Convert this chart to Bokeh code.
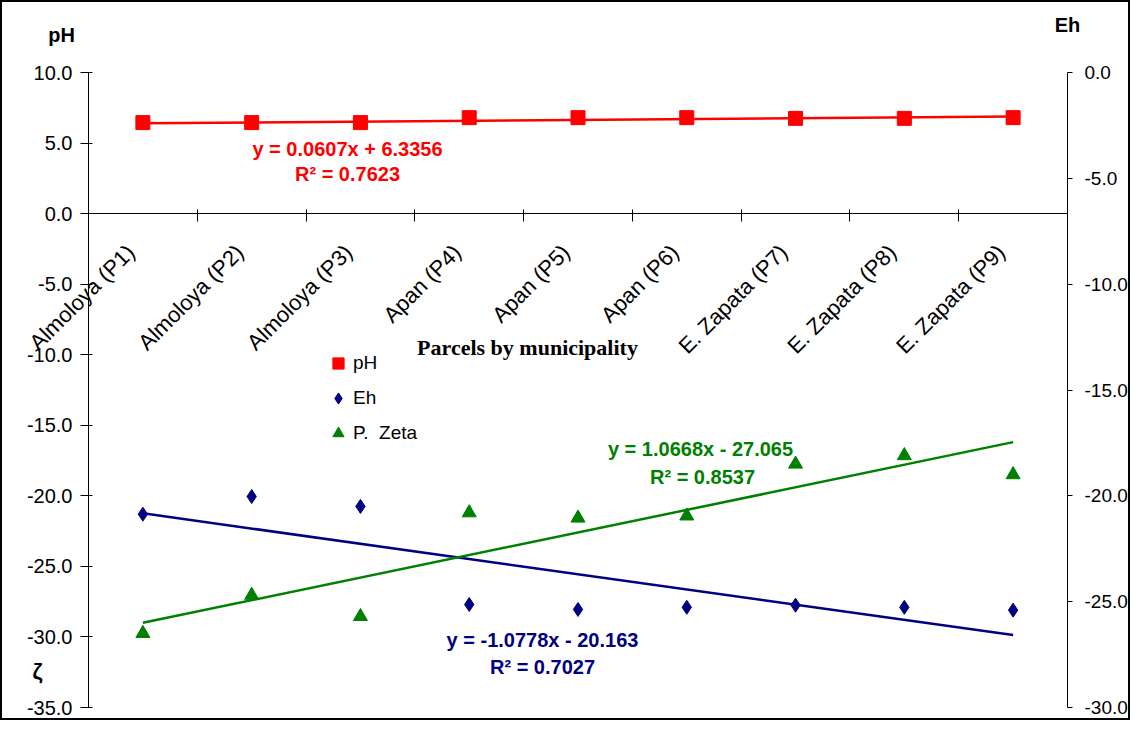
import math
from bokeh.plotting import figure
from bokeh.models import (Range1d, LinearAxis, FixedTicker, NumeralTickFormatter,
                          LabelSet, Legend, LegendItem, ColumnDataSource)
from bokeh.core.properties import value
from bokeh.embed import file_html
from bokeh.resources import INLINE

# ---------------- data ----------------
categories = ["Almoloya (P1)", "Almoloya (P2)", "Almoloya (P3)",
              "Apan (P4)", "Apan (P5)", "Apan (P6)",
              "E. Zapata (P7)", "E. Zapata (P8)", "E. Zapata (P9)"]
x_pos = [1, 2, 3, 4, 5, 6, 7, 8, 9]
ph = [6.45, 6.45, 6.45, 6.8, 6.8, 6.8, 6.75, 6.75, 6.8]
eh = [-21.3, -20.05, -20.75, -27.7, -28.05, -27.9, -27.75, -27.9, -28.1]
zeta = [-26.5, -24.7, -25.7, -20.8, -21.05, -20.95, -18.5, -18.1, -19.0]

ph_fit = {"slope": 0.0607, "intercept": 6.3356, "r2": 0.7623}
eh_fit = {"slope": -1.0778, "intercept": -20.163, "r2": 0.7027}
zeta_fit = {"slope": 1.0668, "intercept": -27.065, "r2": 0.8537}

left_ticks = [-35, -30, -25, -20, -15, -10, -5, 0, 5, 10]
right_ticks = [-30, -25, -20, -15, -10, -5, 0]
left_bounds = (-35, 10)
right_bounds = (-30, 0)

RED = "#ff0000"
NAVY = "#000080"
GREEN = "#008000"
FONT = "Liberation Sans"

# ---------------- geometry (canvas pixels) ----------------
W, H = 1130, 720
AX_L, AX_R = 88, 1067      # where x = 0.5 and x = 9.5 fall
AX_T, AX_B = 72, 707       # where the axes' top and bottom fall
ux = (AX_R - AX_L) / 9.0
uy = (AX_B - AX_T) / float(left_bounds[1] - left_bounds[0])
uyr = (AX_B - AX_T) / float(right_bounds[1] - right_bounds[0])
x0 = 0.5 - AX_L / ux
x1 = 9.5 + (W - AX_R) / ux
y1 = left_bounds[1] + AX_T / uy
y0 = left_bounds[0] - (H - AX_B) / uy
r1 = right_bounds[1] + AX_T / uyr
r0 = right_bounds[0] - (H - AX_B) / uyr


def px2x(cx):
    return x0 + cx / ux


def px2y(cy):
    return y1 - cy / uy


p = figure(width=W, height=H, x_range=Range1d(x0, x1), y_range=Range1d(y0, y1),
           output_backend="svg", toolbar_location=None, x_axis_location=None,
           y_axis_location=None, min_border=0, min_border_left=0, min_border_right=0,
           min_border_top=0, min_border_bottom=0)
p.outline_line_color = "black"
p.outline_line_width = 3
p.xgrid.visible = False
p.ygrid.visible = False
p.background_fill_color = "white"
p.border_fill_color = "white"
p.extra_y_ranges = {"right": Range1d(r0, r1)}


def style_axis(ax, size="20px"):
    ax.major_label_text_font = FONT
    ax.major_label_text_font_size = size
    ax.major_label_text_color = "black"
    ax.minor_tick_line_color = None
    ax.axis_line_color = "black"
    ax.major_tick_line_color = "black"


la = LinearAxis(fixed_location=0.5, bounds=left_bounds, ticker=FixedTicker(ticks=left_ticks),
                formatter=NumeralTickFormatter(format="0.0"))
style_axis(la)
la.major_tick_in = 4
la.major_tick_out = 8
la.major_label_standoff = 8
p.add_layout(la, "left")

ra = LinearAxis(y_range_name="right", fixed_location=9.5, bounds=right_bounds,
                ticker=FixedTicker(ticks=right_ticks),
                formatter=NumeralTickFormatter(format="0.0"))
style_axis(ra, "19px")
ra.major_tick_in = 0
ra.major_tick_out = 5
ra.major_label_standoff = 12
p.add_layout(ra, "right")

# category axis crossing at y = 0: only boundary ticks (as minor ticks), no labels
xa = LinearAxis(fixed_location=0, bounds=(0.5, 9.5),
                ticker=FixedTicker(ticks=[], minor_ticks=[0.5 + i for i in range(10)]))
xa.axis_line_color = "black"
xa.major_tick_line_color = None
xa.minor_tick_line_color = "black"
xa.minor_tick_in = 4
xa.minor_tick_out = 8
p.add_layout(xa, "below")

cat_src = ColumnDataSource(dict(x=x_pos, y=[0] * len(x_pos), text=categories))
cats = LabelSet(x="x", y="y", text="text", source=cat_src, angle=math.pi / 4,
                text_align="right", text_baseline="middle", x_offset=-12, y_offset=-35,
                text_font=value(FONT), text_font_size="22px", text_color="black")
p.add_layout(cats)

# trend lines
xs_fit = [x_pos[0], x_pos[-1]]
p.line(xs_fit, [ph_fit["slope"] * x + ph_fit["intercept"] for x in xs_fit],
       line_color=RED, line_width=2.5)
p.line(xs_fit, [eh_fit["slope"] * x + eh_fit["intercept"] for x in xs_fit],
       line_color=NAVY, line_width=2.5)
p.line(xs_fit, [zeta_fit["slope"] * x + zeta_fit["intercept"] for x in xs_fit],
       line_color=GREEN, line_width=2.5, y_range_name="right")

# points
r_ph = p.scatter(x_pos, ph, marker="square", size=14, fill_color=RED, line_color=RED)
r_eh = p.scatter(x_pos, eh, marker="diamond", size=14, fill_color=NAVY, line_color=NAVY)
r_ze = p.scatter(x_pos, zeta, marker="triangle", size=14, fill_color=GREEN,
                 line_color=GREEN, y_range_name="right")

legend = Legend(items=[LegendItem(label="pH", renderers=[r_ph]),
                       LegendItem(label="Eh", renderers=[r_eh]),
                       LegendItem(label="P.  Zeta", renderers=[r_ze])],
                location=(324, 273))
legend.border_line_color = None
legend.background_fill_alpha = 0
legend.label_text_font = FONT
legend.label_text_font_size = "19px"
legend.label_text_color = "black"
legend.glyph_width = 28
legend.glyph_height = 28
legend.label_height = 28
legend.spacing = 7
legend.padding = 0
legend.margin = 0
legend.label_standoff = 1
p.add_layout(legend)


def eq_text(fit):
    sign = "+" if fit["intercept"] >= 0 else "-"
    return "y = %sx %s %s" % (f"{fit['slope']:.4f}", sign, f"{abs(fit['intercept']):g}")


lab_x, lab_y, lab_t, lab_c, lab_s, lab_f, lab_st = [], [], [], [], [], [], []


def add_label(cx, cy, text, color, size="20px", bold=True, font=FONT):
    lab_x.append(px2x(cx))
    lab_y.append(px2y(cy))
    lab_t.append(text)
    lab_c.append(color)
    lab_s.append(size)
    lab_f.append(font)
    lab_st.append("bold" if bold else "normal")


# positions given in canvas pixels
add_label(347, 148, eq_text(ph_fit), RED)
add_label(347, 173, "R² = %.4f" % ph_fit["r2"], RED)
add_label(700, 448, eq_text(zeta_fit), GREEN)
add_label(702, 476, "R² = %.4f" % zeta_fit["r2"], GREEN)
add_label(542, 639, eq_text(eh_fit), NAVY)
add_label(542, 666, "R² = %.4f" % eh_fit["r2"], NAVY)
add_label(527, 347, "Parcels by municipality", "black", size="22px", font="Liberation Serif")
add_label(61, 34, "pH", "black", size="20px")
add_label(1067, 24, "Eh", "black", size="20px")
add_label(37, 671, "ζ", "black", size="22px")

lab_src = ColumnDataSource(dict(x=lab_x, y=lab_y, text=lab_t, color=lab_c, size=lab_s,
                                font=lab_f, style=lab_st))
p.text(x="x", y="y", text="text", source=lab_src, text_color="color", text_font="font",
       text_font_size="size", text_font_style="style", text_align="center",
       text_baseline="middle")

open("out.html", "w").write(file_html(p, INLINE))
